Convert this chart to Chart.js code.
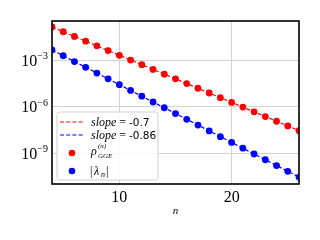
<!DOCTYPE html>
<html lang="en">
<head>
<meta charset="UTF-8">
<script src="https://cdn.jsdelivr.net/npm/chart.js"></script>
<style>
  html, body { margin: 0; padding: 0; background: #fff; }
  canvas { display: block; }
</style>
</head>
<body>
<canvas id="grafico" width="320" height="240"></canvas>
<script>
// valores
var nValues = [4, 5, 6, 7, 8, 9, 10, 11, 12, 13, 14, 15, 16, 17, 18, 19, 20, 21, 22, 23, 24, 25, 26];
var rhoValues = [1.35e-1, 6.7e-2, 3.33e-2, 1.65e-2, 8.2e-3, 4.07e-3, 2.02e-3, 1.0e-3, 4.99e-4, 2.48e-4,
  1.23e-4, 6.1e-5, 3.03e-5, 1.51e-5, 7.48e-6, 3.72e-6, 1.85e-6, 9.2e-7, 4.55e-7, 2.26e-7, 1.12e-7, 5.57e-8, 2.77e-8];
var lambdaValues = [4.47e-3, 1.89e-3, 8.0e-4, 3.4e-4, 1.44e-4, 6.1e-5, 2.58e-5, 1.09e-5, 4.63e-6, 1.96e-6,
  8.3e-7, 3.52e-7, 1.49e-7, 6.3e-8, 2.68e-8, 1.13e-8, 4.8e-9, 2.04e-9, 8.6e-10, 3.66e-10, 1.55e-10, 6.6e-11, 2.78e-11];
var fitN = [4, 26];
var fitRho = [1.35e-1, 2.77e-8];
var fitLambda = [4.47e-3, 2.78e-11];
var xTicks = [10, 20];
var yTicks = [1e-9, 1e-6, 1e-3];
var yTickExps = ['\u22129', '\u22126', '\u22123'];
var slopeRho = '-0.7';
var slopeLambda = '-0.86';

function pontos(xs, ys) {
  return xs.map(function (x, i) { return { x: x, y: ys[i] }; });
}

var serif = '"Liberation Serif", "DejaVu Serif", serif';
var sans = '"DejaVu Sans", sans-serif';

var extras = {
  id: 'extras',
  afterDraw: function (chart) {
    var ctx = chart.ctx;
    var a = chart.chartArea;
    var ys = chart.scales.y;
    var xs = chart.scales.x;
    ctx.save();

    // moldura
    ctx.strokeStyle = '#000';
    ctx.lineWidth = 1.6;
    ctx.strokeRect(a.left, a.top, a.right - a.left, a.bottom - a.top);

    // rotulos do eixo y (10^k)
    ctx.fillStyle = '#000';
    ctx.textBaseline = 'alphabetic';
    yTicks.forEach(function (v, i) {
      var py = ys.getPixelForValue(v);
      ctx.font = '10px ' + serif;
      var wExp = ctx.measureText(yTickExps[i]).width;
      ctx.font = '16px ' + serif;
      var wBase = ctx.measureText('10').width;
      var right = a.left - 4;
      ctx.textAlign = 'left';
      ctx.fillText('10', right - wExp - wBase, py + 5.5);
      ctx.font = '10px ' + serif;
      ctx.fillText(yTickExps[i], right - wExp, py - 1);
    });

    // rotulos do eixo x
    ctx.font = '16px ' + serif;
    ctx.textAlign = 'center';
    xTicks.forEach(function (v) {
      ctx.fillText(String(v), xs.getPixelForValue(v), a.bottom + 18);
    });
    ctx.font = 'italic 11px ' + serif;
    ctx.fillText('n', (a.left + a.right) / 2, a.bottom + 30);

    // legenda
    var lx = 57, ly = 112, lw = 101, lh = 68;
    ctx.beginPath();
    ctx.roundRect(lx, ly, lw, lh, 2.5);
    ctx.fillStyle = 'rgba(255,255,255,0.85)';
    ctx.fill();
    ctx.strokeStyle = '#d0d0d0';
    ctx.lineWidth = 1;
    ctx.stroke();

    function linha(y, cor) {
      ctx.beginPath();
      ctx.setLineDash([4, 2.2]);
      ctx.strokeStyle = cor;
      ctx.lineWidth = 1.2;
      ctx.moveTo(60, y);
      ctx.lineTo(83, y);
      ctx.stroke();
      ctx.setLineDash([]);
    }
    function ponto(y, cor) {
      ctx.beginPath();
      ctx.fillStyle = cor;
      ctx.arc(72, y, 3.3, 0, Math.PI * 2);
      ctx.fill();
    }
    function slope(y, valor) {
      ctx.fillStyle = '#000';
      ctx.textAlign = 'left';
      ctx.font = 'italic 12px ' + serif;
      ctx.fillText('slope', 91, y + 4);
      var w = ctx.measureText('slope').width;
      ctx.font = '12px ' + serif;
      ctx.fillText(' =', 91 + w, y + 4);
      ctx.font = '10.5px ' + sans;
      ctx.fillText(valor, 129, y + 4);
    }

    linha(122, '#ff0000');
    slope(122, slopeRho);
    linha(135, '#0000ff');
    slope(135, slopeLambda);

    ponto(153, '#ff0000');
    ctx.fillStyle = '#000';
    ctx.textAlign = 'left';
    ctx.font = 'italic 12px ' + serif;
    ctx.fillText('\u03c1', 91, 155);
    ctx.font = 'italic 7px ' + serif;
    ctx.fillText('GGE', 98, 158);
    ctx.fillText('(n)', 98, 148);

    ponto(171, '#0000ff');
    ctx.fillStyle = '#000';
    ctx.font = '12px ' + serif;
    ctx.fillText('|', 90, 175);
    ctx.font = 'italic 12px ' + serif;
    ctx.fillText('\u03bb', 94, 175);
    ctx.font = 'italic 8px ' + serif;
    ctx.fillText('n', 101, 177);
    ctx.font = '12px ' + serif;
    ctx.fillText('|', 106, 175);

    ctx.restore();
  }
};

new Chart(document.getElementById('grafico').getContext('2d'), {
  type: 'scatter',
  data: {
    datasets: [
      {
        type: 'line', label: 'slope rho', data: pontos(fitN, fitRho),
        borderColor: '#ff0000', borderWidth: 1.2, borderDash: [4, 2.2],
        pointRadius: 0, fill: false, clip: 0, order: 1
      },
      {
        type: 'line', label: 'slope lambda', data: pontos(fitN, fitLambda),
        borderColor: '#0000ff', borderWidth: 1.2, borderDash: [4, 2.2],
        pointRadius: 0, fill: false, clip: 0, order: 1
      },
      {
        label: 'rho GGE', data: pontos(nValues, rhoValues),
        backgroundColor: '#ff0000', borderWidth: 0, pointRadius: 3.4, clip: 0, order: 2
      },
      {
        label: 'lambda', data: pontos(nValues, lambdaValues),
        backgroundColor: '#0000ff', borderWidth: 0, pointRadius: 3.4, clip: 0, order: 2
      }
    ]
  },
  options: {
    responsive: false,
    animation: false,
    layout: { padding: { left: 0, right: 21, top: 21, bottom: 0 } },
    plugins: { legend: { display: false }, tooltip: { enabled: false } },
    scales: {
      x: {
        type: 'linear', min: 4, max: 26,
        afterBuildTicks: function (s) { s.ticks = xTicks.map(function (v) { return { value: v }; }); },
        afterFit: function (s) { s.height = 56; },
        ticks: { display: false },
        grid: { color: '#d3d3d3', lineWidth: 1, drawTicks: false },
        border: { display: false }
      },
      y: {
        type: 'logarithmic', min: 1e-11, max: 0.33,
        afterBuildTicks: function (s) { s.ticks = yTicks.map(function (v) { return { value: v }; }); },
        afterFit: function (s) { s.width = 52; },
        ticks: { display: false },
        grid: { color: '#d3d3d3', lineWidth: 1, drawTicks: false },
        border: { display: false }
      }
    }
  },
  plugins: [extras]
});
</script>
</body>
</html>
